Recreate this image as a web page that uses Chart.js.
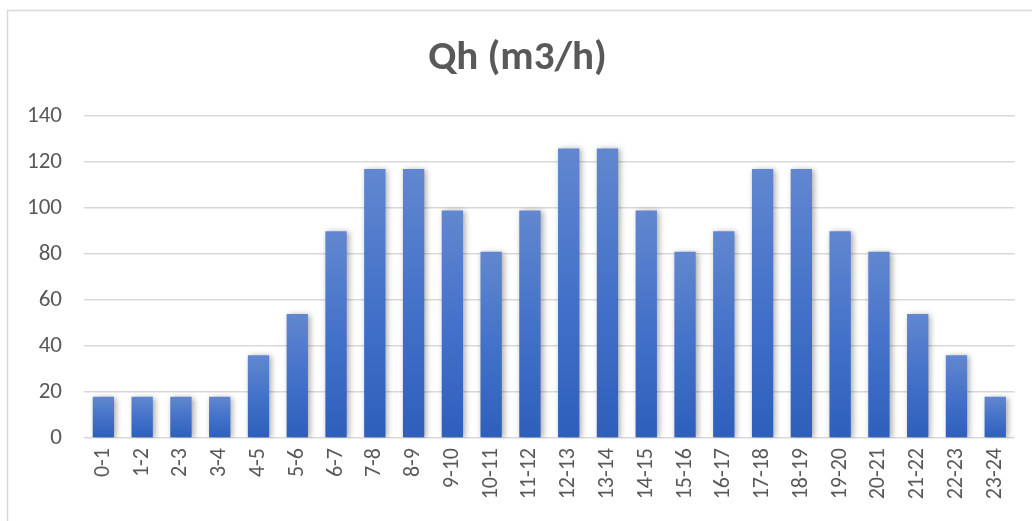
<!DOCTYPE html>
<html>
<head>
<meta charset="utf-8">
<script src="https://cdn.jsdelivr.net/npm/chart.js@4/dist/chart.umd.min.js"></script>
<style>
  html, body { margin: 0; padding: 0; background: #fff; }
  #wrap { width: 1032px; height: 521px; position: relative; }
</style>
</head>
<body>
<div id="wrap"><canvas id="qh"></canvas></div>
<script>
const hours = ['0-1', '1-2', '2-3', '3-4', '4-5', '5-6', '6-7', '7-8', '8-9', '9-10', '10-11', '11-12',
  '12-13', '13-14', '14-15', '15-16', '16-17', '17-18', '18-19', '19-20', '20-21', '21-22', '22-23', '23-24']
const flow = [18, 18, 18, 18, 36, 54, 90, 117, 117, 99, 81, 99,
  126, 126, 99, 81, 90, 117, 117, 90, 81, 54, 36, 18]
const yTicks = [0, 20, 40, 60, 80, 100, 120, 140]

const FONT = "Carlito, 'Liberation Sans', sans-serif"
const GREY = '#595959'

// light frame around the chart, cut by the right and bottom edges
const framePlugin = {
  id: 'frame',
  beforeDraw(chart) {
    const ctx = chart.ctx
    ctx.save()
    ctx.strokeStyle = '#d9d9d9'
    ctx.lineWidth = 1.5
    ctx.strokeRect(7.5, 10.5, chart.width + 20, chart.height + 20)
    ctx.restore()
  },
}

// soft drop shadow under the bars
const shadowPlugin = {
  id: 'barShadow',
  beforeDatasetsDraw(chart) {
    const ctx = chart.ctx
    ctx.save()
    ctx.shadowColor = 'rgba(0, 0, 0, 0.35)'
    ctx.shadowBlur = 6
    ctx.shadowOffsetX = 2
    ctx.shadowOffsetY = 1
  },
  afterDatasetsDraw(chart) {
    chart.ctx.restore()
  },
}

// each bar fades from a lighter blue at its top to a deeper blue at the base
const barGradient = (context) => {
  const chart = context.chart
  const { ctx, scales, chartArea } = chart
  if (!chartArea || !scales.y || !context.parsed) return '#4472c4'
  const top = scales.y.getPixelForValue(context.parsed.y)
  const base = scales.y.getPixelForValue(0)
  if (!isFinite(top) || !isFinite(base) || top === base) return '#4472c4'
  const g = ctx.createLinearGradient(0, top, 0, base)
  g.addColorStop(0, '#6187cf')
  g.addColorStop(0.5, '#4472c9')
  g.addColorStop(1, '#2d5fbb')
  return g
}

const ctx = document.getElementById('qh').getContext('2d')

new Chart(ctx, {
  type: 'bar',
  data: {
    labels: hours,
    datasets: [{
      label: 'Qh (m3/h)',
      data: flow,
      backgroundColor: barGradient,
      borderWidth: 0,
      barPercentage: 0.55,
      categoryPercentage: 1,
    }],
  },
  options: {
    responsive: true,
    maintainAspectRatio: false,
    animation: false,
    layout: {
      padding: { left: 20, right: 17, top: 0, bottom: 6 },
    },
    plugins: {
      legend: { display: false },
      tooltip: { enabled: false },
      title: {
        display: true,
        text: 'Qh (m3/h)',
        color: GREY,
        font: { family: FONT, size: 41, weight: 'bold', lineHeight: 1.2 },
        padding: { top: 34, bottom: 33 },
      },
    },
    scales: {
      x: {
        grid: { display: false, drawTicks: false },
        border: { display: false },
        ticks: {
          color: GREY,
          font: { family: FONT, size: 22 },
          minRotation: 90,
          maxRotation: 90,
          autoSkip: false,
          padding: 10,
        },
        afterFit(scale) {
          scale.height = 77
        },
      },
      y: {
        min: 0,
        max: 140,
        afterBuildTicks(scale) {
          scale.ticks = yTicks.map((v) => ({ value: v }))
        },
        grid: { color: '#d9d9d9', lineWidth: 1.5, drawTicks: false },
        border: { display: false },
        ticks: {
          color: GREY,
          font: { family: FONT, size: 23 },
          padding: 22,
        },
        afterFit(scale) {
          scale.width = 64
        },
      },
    },
  },
  plugins: [framePlugin, shadowPlugin],
})
</script>
</body>
</html>
